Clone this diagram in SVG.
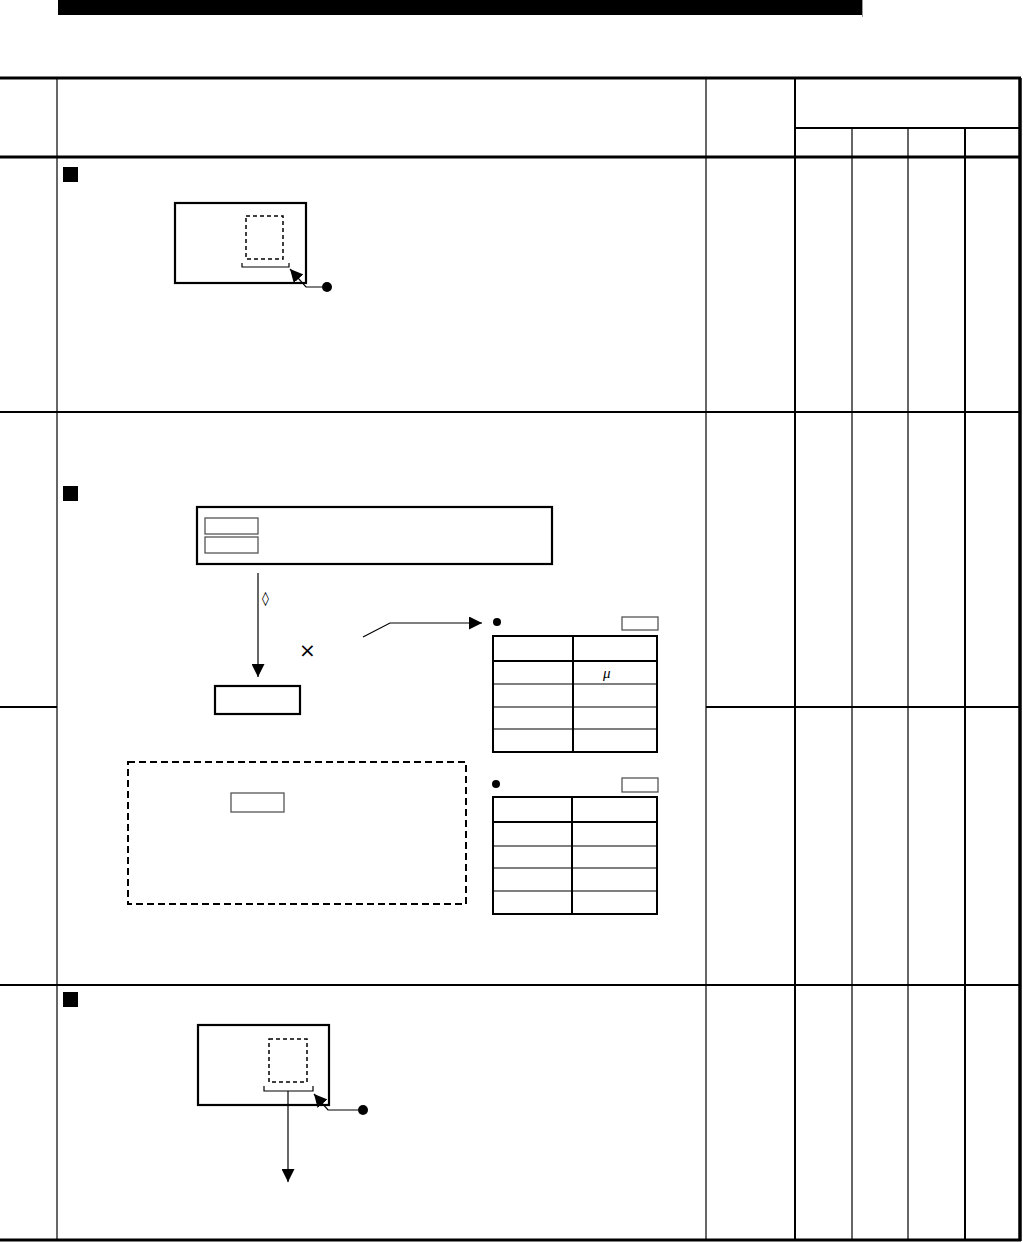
<svg xmlns="http://www.w3.org/2000/svg" width="1023" height="1242" viewBox="0 0 1023 1242">
<style>
.thin{stroke:#000;stroke-width:1.2;fill:none}
.med{stroke:#000;stroke-width:2;fill:none}
.thick{stroke:#000;stroke-width:3;fill:none}
.box{stroke:#000;stroke-width:2.2;fill:#fff}
.gbox{stroke:#555;stroke-width:1.3;fill:#fff}
.dash{stroke:#000;stroke-width:1.5;fill:none;stroke-dasharray:4,3}
.dash2{stroke:#000;stroke-width:2;fill:none;stroke-dasharray:7,4}
.txt{font-family:"DejaVu Sans","Liberation Sans",sans-serif;fill:#000}
</style>
<defs>
<marker id="ahb" viewBox="0 0 10 10" refX="10" refY="5" markerWidth="13" markerHeight="13" markerUnits="userSpaceOnUse" orient="auto">
<path d="M0,0 L10,5 L0,10 z" fill="#000"/>
</marker>
</defs>
<rect width="1023" height="1242" fill="#fff"/>
<!-- header bar -->
<rect x="58" y="0" width="804" height="15" fill="#000"/>
<line x1="862.5" y1="0" x2="862.5" y2="17" stroke="#999" stroke-width="1"/>
<!-- table frame -->
<g id="table">
<line class="thick" x1="0" y1="78" x2="1021" y2="78"/>
<line class="thick" x1="0" y1="157" x2="1021" y2="157"/>
<line class="med" x1="0" y1="412" x2="1021" y2="412"/>
<line class="med" x1="0" y1="707" x2="57" y2="707"/>
<line class="med" x1="706" y1="707" x2="1021" y2="707"/>
<line class="med" x1="0" y1="985" x2="1021" y2="985"/>
<line class="thick" x1="0" y1="1240" x2="1021" y2="1240"/>
<line x1="1020" y1="78" x2="1020" y2="1241" stroke="#000" stroke-width="3.5"/>
<line class="thin" x1="57" y1="78" x2="57" y2="1240"/>
<line class="thin" x1="706" y1="78" x2="706" y2="1240"/>
<line class="med" x1="795" y1="78" x2="795" y2="1240"/>
<line class="med" x1="795" y1="128" x2="1020" y2="128"/>
<line class="thin" x1="852" y1="128" x2="852" y2="1240"/>
<line class="thin" x1="908" y1="128" x2="908" y2="1240"/>
<line class="med" x1="965" y1="128" x2="965" y2="1240"/>
</g>
<!-- row 1 -->
<g id="row1">
<rect x="63" y="167" width="15" height="15" fill="#000"/>
<rect class="box" x="175" y="203" width="131" height="80"/>
<rect class="dash" x="246" y="216" width="37" height="43"/>
<path class="thin" d="M242,263 V267 H289 V263"/>
<circle cx="327" cy="287" r="5" fill="#000"/>
</g>
<!-- row 2 -->
<g id="row2">
<rect x="63" y="486" width="15" height="15" fill="#000"/>
<rect class="box" x="197" y="507" width="355" height="57"/>
<rect class="gbox" x="205" y="518" width="53" height="16"/>
<rect class="gbox" x="205" y="537" width="53" height="16"/>
<text class="txt" x="262" y="603" font-size="14">◊</text>
<text class="txt" x="299" y="657" font-size="20" fill="#333">×</text>
<rect class="box" x="215" y="686" width="85" height="28"/>
<circle cx="497" cy="622" r="4" fill="#000"/>
</g>
<g id="table1">
<rect class="gbox" x="622" y="617" width="36" height="13"/>
<rect class="med" x="493" y="636" width="164" height="116"/>
<line class="med" x1="573" y1="636" x2="573" y2="752"/>
<line class="med" x1="493" y1="661" x2="657" y2="661"/>
<line class="thin" x1="493" y1="684" x2="657" y2="684"/>
<line class="thin" x1="493" y1="707" x2="657" y2="707"/>
<line class="thin" x1="493" y1="729" x2="657" y2="729"/>
<text x="603" y="678" font-family="Liberation Serif,serif" font-size="15" font-style="italic">μ</text>
</g>
<g id="note">
<rect class="dash2" x="128" y="762" width="338" height="142"/>
<rect class="gbox" x="231" y="793" width="53" height="19"/>
</g>
<g id="table2">
<circle cx="496" cy="784" r="4" fill="#000"/>
<rect class="gbox" x="622" y="778" width="36" height="14"/>
<rect class="med" x="493" y="797" width="164" height="117"/>
<line class="med" x1="572" y1="797" x2="572" y2="914"/>
<line class="med" x1="493" y1="822" x2="657" y2="822"/>
<line class="thin" x1="493" y1="846" x2="657" y2="846"/>
<line class="thin" x1="493" y1="868" x2="657" y2="868"/>
<line class="thin" x1="493" y1="891" x2="657" y2="891"/>
</g>
<!-- row 3 -->
<g id="row3">
<rect x="63" y="992" width="15" height="15" fill="#000"/>
<rect class="box" x="198" y="1025" width="131" height="80"/>
<rect class="dash" x="269" y="1039" width="38" height="43"/>
<path class="thin" d="M264,1086 V1091 H313 V1086"/>
<circle cx="363" cy="1110" r="5" fill="#000"/>
</g>
<!-- connectors -->
<g id="connectors">
<path class="thin" d="M322,287 H306 L290,269" marker-end="url(#ahb)"/>
<line class="thin" x1="258" y1="573" x2="258" y2="677" marker-end="url(#ahb)"/>
<path class="thin" d="M363,637 L390,623 H482" marker-end="url(#ahb)"/>
<line class="thin" x1="288" y1="1091" x2="288" y2="1182" marker-end="url(#ahb)"/>
<path class="thin" d="M358,1110 H328 L314,1094" marker-end="url(#ahb)"/>
</g>
</svg>
